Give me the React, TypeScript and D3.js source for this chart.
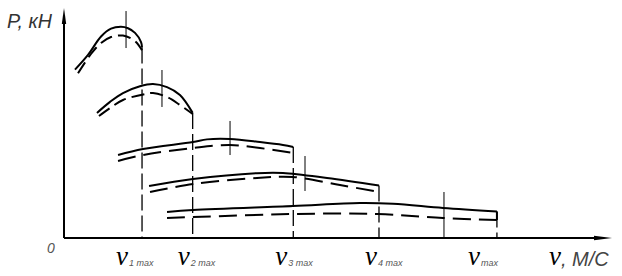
import React from 'react';
import * as d3 from 'd3';

const W = 622;
const H = 276;

// Speed at end of each gear range, m/s
const gearVmax = [7.12, 11.74, 20.92, 28.74, 39.5];
const gearSub = ['1 max', '2 max', '3 max', '4 max', 'max'];

// Traction force curves per gear (v m/s, P kN): theoretical (solid)
const gear1Solid: [number, number][] = [[1.0, 18.3], [2.19, 19.9], [3.38, 21.9], [4.29, 22.75], [5.2, 22.95], [5.84, 22.8], [6.48, 22.3], [7.03, 21.3], [7.12, 20.7]];
const gear2Solid: [number, number][] = [[3.01, 13.6], [4.2, 14.8], [5.38, 15.76], [6.93, 16.5], [8.12, 16.74], [9.4, 16.4], [10.58, 15.54], [11.74, 13.6]];
const gear3Solid: [number, number][] = [[4.93, 9.02], [7.21, 9.67], [11.77, 10.43], [13.05, 10.72], [15.15, 10.76], [17.88, 10.43], [19.98, 10.11], [20.92, 9.89]];
const gear4Solid: [number, number][] = [[7.76, 5.65], [11.77, 6.41], [17.61, 7.05], [19.98, 7.07], [24.0, 6.52], [28.74, 5.7]];
const gear5Solid: [number, number][] = [[9.4, 2.83], [11.77, 3.04], [20.89, 3.48], [27.0, 3.8], [30.02, 3.72], [34.58, 3.26], [39.5, 2.88]];

// Actual (dashed) curves
const gear1Dashed: [number, number][] = [[1.28, 17.9], [2.46, 20.0], [3.38, 21.2], [4.29, 21.85], [5.38, 22.0], [6.48, 21.4], [7.12, 20.4]];
const gear2Dashed: [number, number][] = [[3.19, 13.26], [4.2, 14.13], [5.38, 15.0], [7.39, 15.65], [8.12, 15.76], [9.4, 15.33], [10.58, 14.46], [11.74, 13.48]];
const gear3Dashed: [number, number][] = [[4.93, 8.37], [7.21, 9.02], [11.77, 9.78], [15.15, 10.11], [17.88, 9.78], [20.92, 9.24]];
const gear4Dashed: [number, number][] = [[7.85, 5.0], [11.77, 5.87], [17.61, 6.52], [20.89, 6.63], [25.18, 5.76], [28.74, 5.0]];
const gear5Dashed: [number, number][] = [[9.4, 2.17], [20.89, 2.61], [28.6, 2.61], [34.58, 2.17], [39.5, 1.96]];

const solidCurves = [gear1Solid, gear2Solid, gear3Solid, gear4Solid, gear5Solid];
const dashedCurves = [gear1Dashed, gear2Dashed, gear3Dashed, gear4Dashed, gear5Dashed];

// Peak markers: speed, lower P, upper P
const markV = [5.66, 8.94, 15.15, 21.99, 34.67];
const markLow = [20.65, 14.24, 9.02, 5.11, 0];
const markHigh = [24.67, 18.26, 12.72, 8.91, 5.0];

// label layout offsets (px) relative to the gear line
const labelDx = [-26, -15, -18, -14, -29];

export default function App() {
  const x = d3.scaleLinear().domain([0, 50]).range([64, 612]);
  const y = d3.scaleLinear().domain([0, 25]).range([238, 8]);
  const line = d3
    .line<[number, number]>()
    .x((d) => x(d[0]))
    .y((d) => y(d[1]))
    .curve(d3.curveCatmullRom.alpha(0.5));

  const x0 = x(0);
  const y0 = y(0);
  const xEnd = x(50);
  const yTop = y(25);

  return (
    <svg width={W} height={H} style={{ position: 'absolute', left: 0, top: 0, background: '#fff' }}>
      <rect x={0} y={0} width={W} height={H} fill="#fff" />
      {/* axes */}
      <line x1={x0} y1={y0} x2={x0} y2={yTop + 10} stroke="#000" strokeWidth={2} />
      <polygon points={`${x0},${yTop} ${x0 - 2.2},${yTop + 16} ${x0 + 2.2},${yTop + 16}`} fill="#000" />
      <line x1={x0} y1={y0} x2={xEnd - 10} y2={y0} stroke="#000" strokeWidth={2} />
      <polygon points={`${xEnd},${y0} ${xEnd - 18},${y0 - 2.2} ${xEnd - 18},${y0 + 2.2}`} fill="#000" />

      {/* gear limit dashed verticals */}
      {gearVmax.map((v, i) => {
        const s = solidCurves[i];
        return (
          <line key={'g' + i} x1={x(v)} x2={x(v)} y1={y(s[s.length - 1][1])} y2={y0}
            stroke="#000" strokeWidth={1.3} strokeDasharray="16 5" />
        );
      })}

      {/* peak markers */}
      {markV.map((v, i) => (
        <line key={'m' + i} x1={x(v)} x2={x(v)} y1={y(markHigh[i])} y2={y(markLow[i])} stroke="#000" strokeWidth={1} />
      ))}

      {/* curves */}
      {solidCurves.map((c, i) => (
        <path key={'s' + i} d={line(c) || ''} fill="none" stroke="#000" strokeWidth={2} />
      ))}
      {dashedCurves.map((c, i) => (
        <path key={'d' + i} d={line(c) || ''} fill="none" stroke="#000" strokeWidth={2} strokeDasharray={i < 2 ? '13 6' : '18 8'} />
      ))}
      {/* closing vertical at last gear */}
      <line x1={x(gearVmax[4])} x2={x(gearVmax[4])} y1={y(gear5Solid[gear5Solid.length - 1][1])} y2={y(gear5Dashed[gear5Dashed.length - 1][1])} stroke="#000" strokeWidth={2} />

      {/* axis labels */}
      <text x={7} y={28} fontFamily="Liberation Sans" fontStyle="italic" fontSize={21} fill="#333" textLength={45} lengthAdjust="spacingAndGlyphs">P, кН</text>
      <text x={51} y={253} textAnchor="middle" fontFamily="Liberation Sans" fontStyle="italic" fontSize={14} fill="#555">0</text>

      {gearVmax.map((v, i) => (
        <text key={'l' + i} x={x(v) + labelDx[i]} y={265}>
          <tspan fontFamily="Liberation Serif" fontStyle="italic" fontSize={27} fill="#000">v</tspan>
          <tspan dx={1} y={266} fontFamily="Liberation Sans" fontStyle="italic" fontSize={9} fill="#555">{gearSub[i]}</tspan>
        </text>
      ))}

      <text x={549} y={265}>
        <tspan fontFamily="Liberation Serif" fontStyle="italic" fontSize={27} fill="#000">v</tspan>
        <tspan y={266} fontFamily="Liberation Sans" fontStyle="italic" fontSize={20} fill="#444" style={{ textTransform: 'uppercase' }}>, м/с</tspan>
      </text>
    </svg>
  );
}
